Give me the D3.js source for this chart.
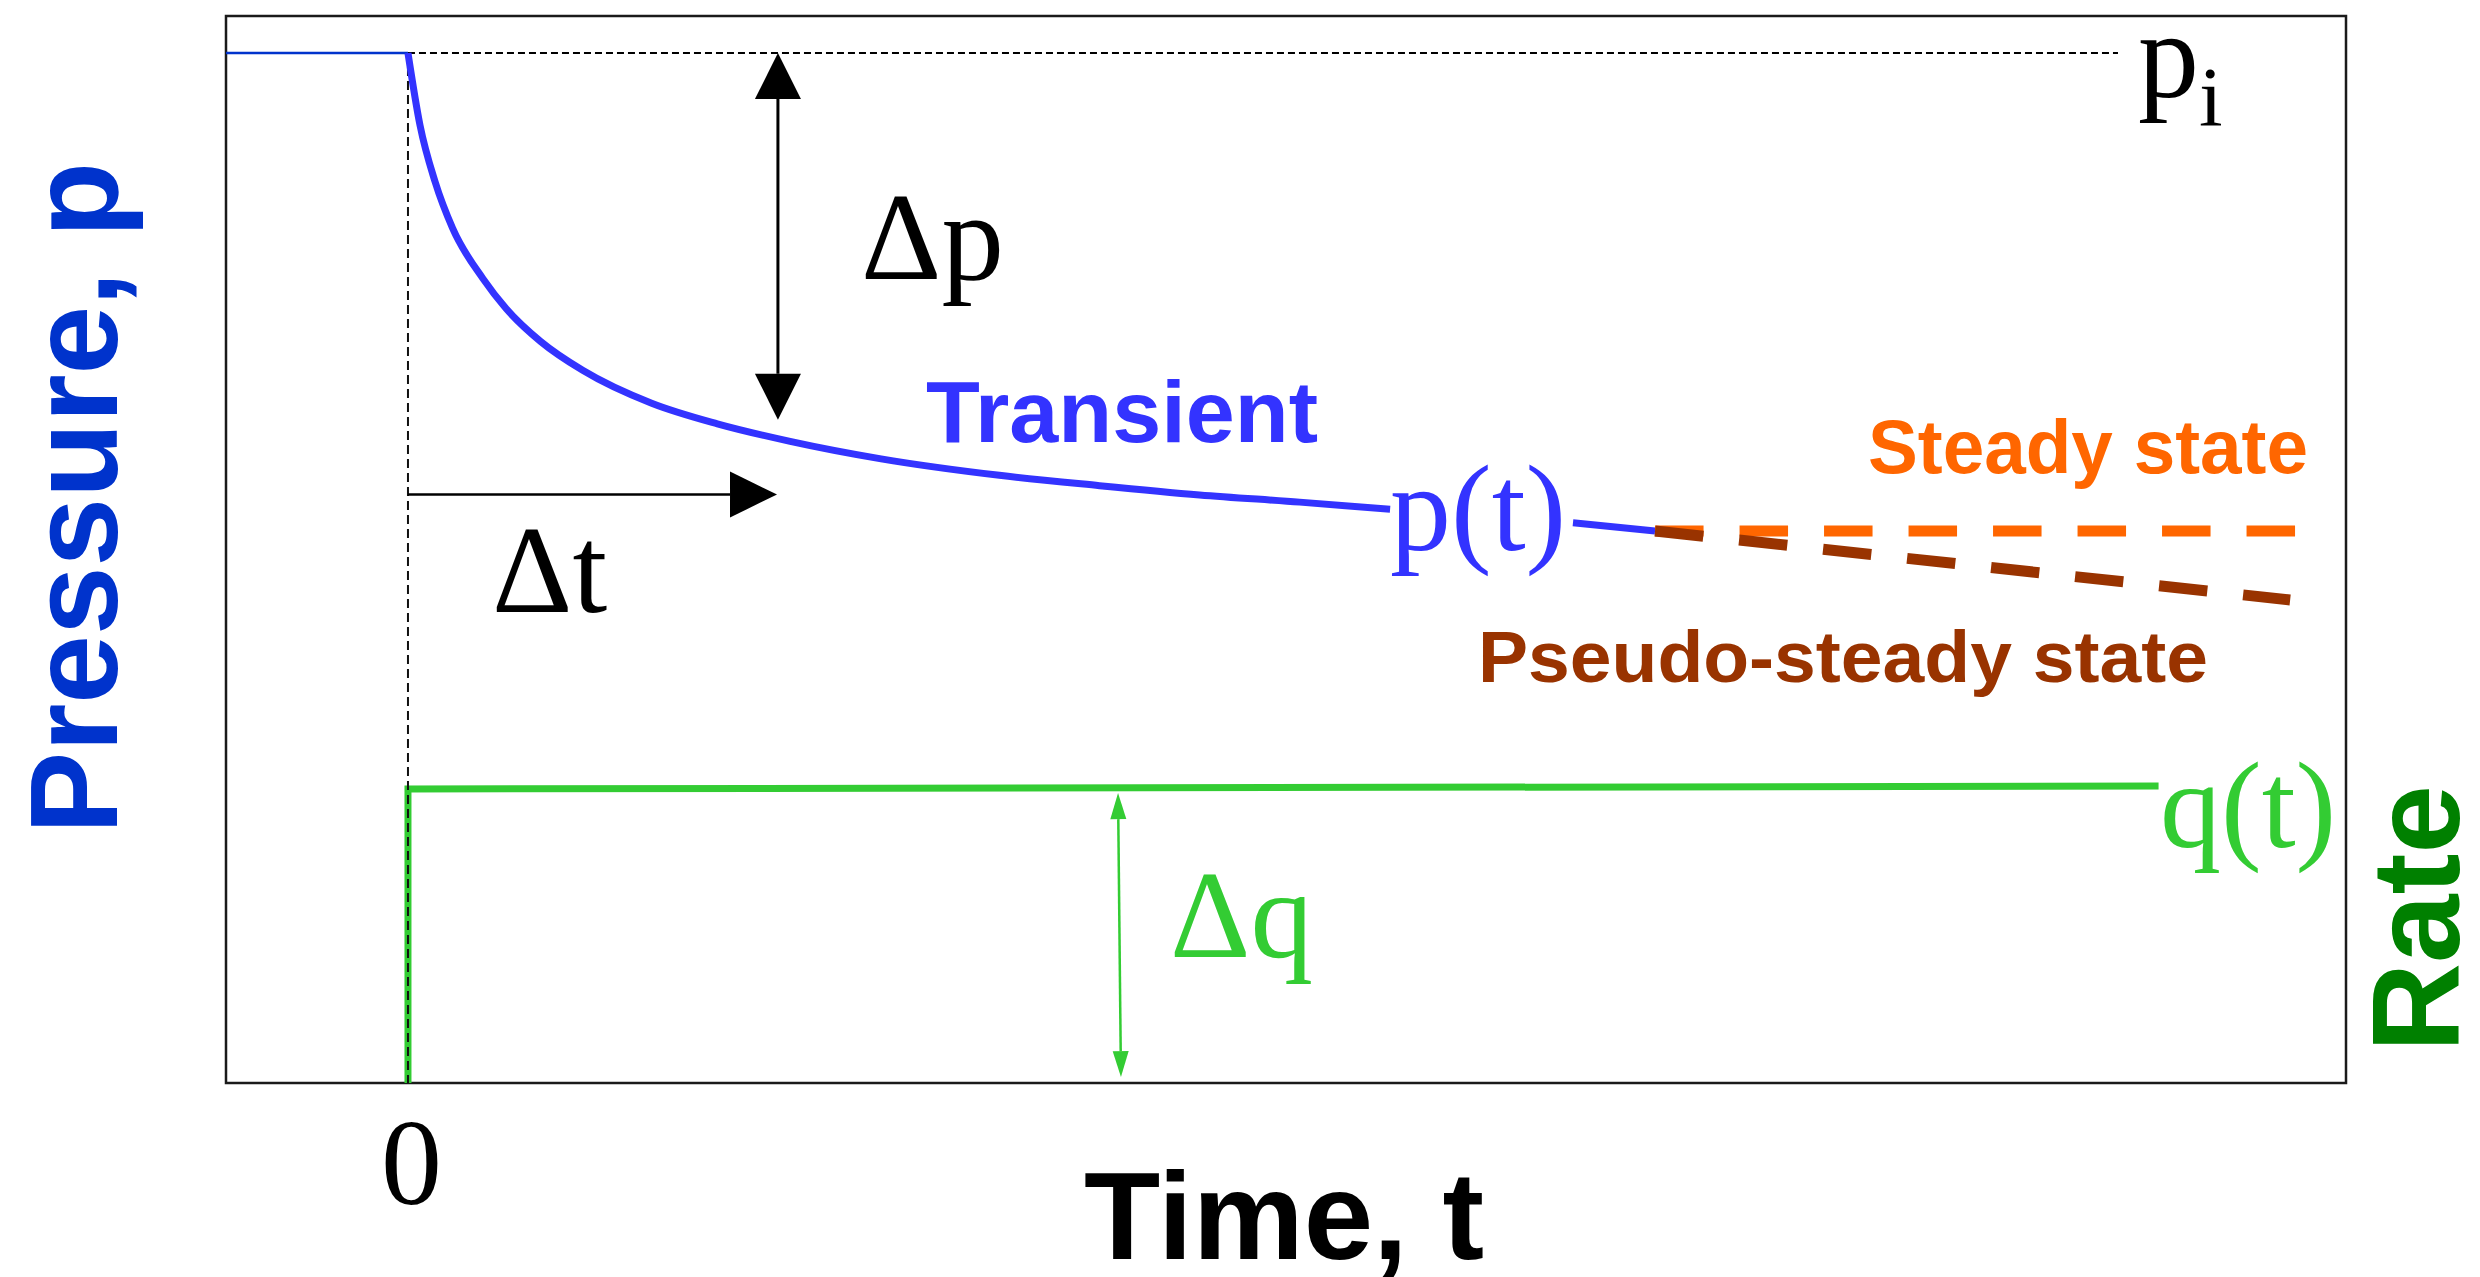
<!DOCTYPE html>
<html><head><meta charset="utf-8">
<script src="https://cdn.jsdelivr.net/npm/d3@7"></script>
<style>html,body{margin:0;padding:0;background:#fff;overflow:hidden}</style>
</head><body><svg id="c" width="2480" height="1277"></svg>
<script>
// ---------- data (time in arbitrary units, pressure in % of p_i, rate normalised) ----------
const initialTime = [-1, 0];
const initialPressure = [100, 100];
const transientTime = [0, 0.066, 0.149, 0.245, 0.412, 0.539, 0.729, 0.960, 1.339, 1.70, 2.10, 2.60, 3.25, 3.80, 4.35, 4.90, 5.397, null, 6.402, 6.853];
const transientPressure = [100, 93.0, 87.5, 83.0, 78.1, 75.2, 72.0, 69.2, 66.0, 64.0, 62.3, 60.6, 59.0, 58.0, 57.1, 56.4, 55.7, null, 54.4, 53.6];
const steadyTime = [6.853, 10.37];
const steadyPressure = [53.6, 53.6];
const pseudoTime = [6.853, 10.343];
const pseudoPressure = [53.6, 46.9];
const rateTime = [0, 0, 9.62];
const rateValue = [0, 1.0, 1.01];
const refLineTime = [0, 9.397];
const piLevel = 100;
const xTickValues = [0];
const xTickLabels = ["0"];
// annotation arrows in data units
const dpArrow = {t: 2.033, from: 100, to: 64.4};
const dtArrow = {p: 57.14, from: 0, to: 2.028};
const dqArrow = {t0: 3.902, t1: 3.918, from: 0.986, to: 0.02};

// ---------- layout ----------
const L = 226, R = 2346, T = 16, B = 1083;
const svg = d3.select('#c');
svg.append('rect').attr('width', 2480).attr('height', 1277).attr('fill', '#fff');
const x = d3.scaleLinear().domain([-1, 10.65]).range([L, R]);
const yP = d3.scaleLinear().domain([0, 103.6]).range([B, T]);
const yQ = d3.scaleLinear().domain([0, 1]).range([B, 789]);

const zip = (a, b) => a.map((v, i) => [v, b[i]]);
const lineP = d3.line().defined(d => d[0] !== null).x(d => x(d[0])).y(d => yP(d[1]));
const lineQ = d3.line().x(d => x(d[0])).y(d => yQ(d[1]));

// box
svg.append('rect').attr('x', L).attr('y', T).attr('width', R - L).attr('height', B - T)
  .attr('fill', 'none').attr('stroke', '#1a1a1a').attr('stroke-width', 2.5);

// rate step
svg.append('path').datum(zip(rateTime, rateValue)).attr('d', lineQ)
  .attr('fill', 'none').attr('stroke', '#33CC33').attr('stroke-width', 7).attr('stroke-linejoin', 'miter');

// reference dashed lines
svg.append('path').datum(zip(refLineTime, [piLevel, piLevel])).attr('d', lineP)
  .attr('fill', 'none').attr('stroke', '#000').attr('stroke-width', 2).attr('stroke-dasharray', '7,4');
svg.append('path').datum([[0, piLevel], [0, 0]]).attr('d', lineP)
  .attr('fill', 'none').attr('stroke', '#111').attr('stroke-width', 2).attr('stroke-dasharray', '9,5');

// initial pressure
svg.append('path').datum(zip(initialTime, initialPressure)).attr('d', lineP)
  .attr('fill', 'none').attr('stroke', '#0033CC').attr('stroke-width', 2.5);

// transient curve
svg.append('path').datum(zip(transientTime, transientPressure))
  .attr('d', lineP.curve(d3.curveMonotoneX))
  .attr('fill', 'none').attr('stroke', '#3333FF').attr('stroke-width', 7).attr('stroke-linecap', 'butt');

// steady & pseudo-steady
const lineLin = d3.line().x(d => x(d[0])).y(d => yP(d[1]));
svg.append('path').datum(zip(steadyTime, steadyPressure)).attr('d', lineLin)
  .attr('fill', 'none').attr('stroke', '#FF6600').attr('stroke-width', 11).attr('stroke-dasharray', '48.5,36');
svg.append('path').datum(zip(pseudoTime, pseudoPressure)).attr('d', lineLin)
  .attr('fill', 'none').attr('stroke', '#993300').attr('stroke-width', 11).attr('stroke-dasharray', '48.5,36');

// arrows
function arrow(x1, y1, x2, y2, color, lw, headLen, headHalf, both) {
  const dx = x2 - x1, dy = y2 - y1, len = Math.hypot(dx, dy);
  const ux = dx / len, uy = dy / len, nx = -uy, ny = ux;
  const sx = both ? x1 + ux * headLen : x1, sy = both ? y1 + uy * headLen : y1;
  const ex = x2 - ux * headLen, ey = y2 - uy * headLen;
  svg.append('line').attr('x1', sx).attr('y1', sy).attr('x2', ex).attr('y2', ey)
    .attr('stroke', color).attr('stroke-width', lw);
  const head = (tx, ty, bx, by) => svg.append('polygon')
    .attr('points', [[tx, ty], [bx + nx * headHalf, by + ny * headHalf], [bx - nx * headHalf, by - ny * headHalf]].map(p => p.join(',')).join(' '))
    .attr('fill', color);
  head(x2, y2, ex, ey);
  if (both) head(x1, y1, x1 + ux * headLen, y1 + uy * headLen);
}
arrow(x(dpArrow.t), yP(dpArrow.from), x(dpArrow.t), yP(dpArrow.to), '#000', 3, 46, 23, true);
arrow(x(dtArrow.from), yP(dtArrow.p), x(dtArrow.to), yP(dtArrow.p), '#000', 2.5, 47, 23, false);
arrow(x(dqArrow.t0), yQ(dqArrow.from), x(dqArrow.t1), yQ(dqArrow.to), '#33CC33', 2.5, 26, 8, true);

// x tick "0"
const ax = svg.append('g').attr('transform', `translate(0,${B})`)
  .call(d3.axisBottom(x).tickValues(xTickValues).tickFormat((d, i) => xTickLabels[i]).tickSize(0).tickPadding(34));
ax.select('.domain').remove();
ax.selectAll('text').attr('font-family', '"Liberation Serif", "Times New Roman", serif')
  .attr('font-size', 122).attr('fill', '#000').attr('dx', 3);

// ---------- text ----------
const serif = '"Liberation Serif", "Times New Roman", serif';
const sans = '"Liberation Sans", Arial, sans-serif';
function txt(s, px, py, size, color, fam, bold, len, rot) {
  const t = svg.append('text').attr('font-family', fam).attr('font-size', size).attr('fill', color)
    .attr('font-weight', bold ? 'bold' : 'normal').text(s);
  if (rot) t.attr('transform', `translate(${px},${py}) rotate(-90)`);
  else t.attr('x', px).attr('y', py);
  if (len) t.attr('textLength', len).attr('lengthAdjust', 'spacingAndGlyphs');
  return t;
}
txt('\u0394p', 861, 279, 125, '#000', serif, false);
txt('\u0394t', 492, 612, 125, '#000', serif, false);
txt('\u0394q', 1170, 957, 125, '#33CC33', serif, false);
txt('p(t)', 1390, 550, 122, '#3333FF', serif, false);
txt('q(t)', 2160, 847, 122, '#33CC33', serif, false);
const pi = svg.append('text').attr('x', 2138).attr('y', 97).attr('font-family', serif).attr('fill', '#000');
pi.append('tspan').attr('font-size', 122).text('p');
pi.append('tspan').attr('font-size', 85).attr('dy', 29).text('i');

txt('Transient', 926, 442, 88, '#3333FF', sans, true, 392);
txt('Steady state', 1868, 473, 76, '#FF6600', sans, true, 440);
txt('Pseudo-steady state', 1478, 682, 73, '#993300', sans, true, 730);
txt('Time, t', 1084, 1259, 124, '#000', sans, true, 400);
txt('Pressure, p', 117, 834, 124, '#0033CC', sans, true, 672, true);
txt('Rate', 2459, 1052, 124, '#008000', sans, true, 267, true);
</script>
</body></html>
